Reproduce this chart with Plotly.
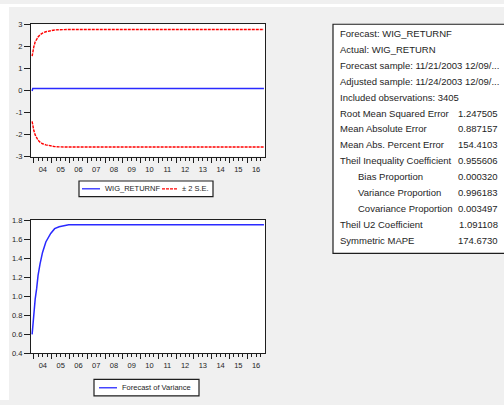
import plotly.graph_objects as go

# Forecast path (daily forecast, sampled where the curves bend)
dates = ["2003-11-24", "2003-12-08", "2003-12-29", "2004-01-26", "2004-02-25",
         "2004-03-25", "2004-05-05", "2004-06-25", "2004-09-01", "2004-12-10",
         "2005-03-01", "2005-06-01", "2005-12-15", "2016-12-09"]
forecast = [-0.03, 0.09, 0.09, 0.09, 0.09, 0.09, 0.09, 0.09, 0.09, 0.09,
            0.09, 0.09, 0.09, 0.09]
upper_2se = [1.55, 1.80, 1.98, 2.20, 2.32, 2.42, 2.52, 2.60, 2.66, 2.72,
             2.74, 2.75, 2.76, 2.76]
lower_2se = [-1.41, -1.62, -1.82, -2.02, -2.16, -2.26, -2.35, -2.42, -2.47,
             -2.52, -2.55, -2.56, -2.57, -2.57]
variance = [0.60, 0.70, 0.84, 0.97, 1.08, 1.22, 1.34, 1.46, 1.57, 1.66,
            1.71, 1.73, 1.75, 1.75]

y1_ticks = [-3, -2, -1, 0, 1, 2, 3]
y1_labels = ["-3", "-2", "-1", "0", "1", "2", "3"]
y2_ticks = [0.4, 0.6, 0.8, 1.0, 1.2, 1.4, 1.6, 1.8]
y2_labels = ["0.4", "0.6", "0.8", "1.0", "1.2", "1.4", "1.6", "1.8"]

# Forecast evaluation statistics
stat_labels = ["Forecast: WIG_RETURNF", "Actual: WIG_RETURN",
               "Forecast sample: 11/21/2003 12/09/...",
               "Adjusted sample: 11/24/2003 12/09/...",
               "Included observations: 3405",
               "Root Mean Squared Error", "Mean Absolute Error",
               "Mean Abs. Percent Error", "Theil Inequality Coefficient",
               "Bias Proportion", "Variance Proportion", "Covariance Proportion",
               "Theil U2 Coefficient", "Symmetric MAPE"]
stat_values = ["", "", "", "", "", "1.247505", "0.887157", "154.4103",
               "0.955606", "0.000320", "0.996183", "0.003497", "1.091108",
               "174.6730"]
stat_indent = [False] * 9 + [True, True, True] + [False, False]

W, H = 504, 405


def px(x):
    return x / W


def py(y):
    return 1 - y / H


BLUE = "#2a2aff"
RED = "#ff0000"
INK = "#1e1e1e"
FONT = "Liberation Sans, Arial, sans-serif"

fig = go.Figure()

fig.add_trace(go.Scatter(x=dates, y=forecast, mode="lines", name="WIG_RETURNF",
                         line=dict(color=BLUE, width=1.5), xaxis="x", yaxis="y",
                         showlegend=False))
fig.add_trace(go.Scatter(x=dates, y=upper_2se, mode="lines", name="± 2 S.E.",
                         line=dict(color=RED, width=1.4, dash="3px,1px"),
                         xaxis="x", yaxis="y", showlegend=False))
fig.add_trace(go.Scatter(x=dates, y=lower_2se, mode="lines", name="± 2 S.E.",
                         line=dict(color=RED, width=1.4, dash="3px,1px"),
                         xaxis="x", yaxis="y", showlegend=False))
fig.add_trace(go.Scatter(x=dates, y=variance, mode="lines",
                         name="Forecast of Variance",
                         line=dict(color=BLUE, width=1.5), xaxis="x2", yaxis="y2",
                         showlegend=False))

x_range = ["2003-11-01", "2016-12-31"]
tickfont = dict(family=FONT, size=7.5, color=INK)


def time_axis(anchor, dom):
    return dict(type="date", range=x_range, domain=dom, anchor=anchor,
                tick0="2004-01-01", dtick="M12", tickformat="%y",
                ticklabelmode="period", ticks="outside", ticklen=5,
                tickcolor=INK, tickwidth=1, tickfont=tickfont,
                minor=dict(dtick="M3", ticks="outside", ticklen=3,
                           tickcolor=INK, tickwidth=1),
                showgrid=False, zeroline=False, showline=True, mirror=True,
                linecolor=INK, linewidth=1.2, fixedrange=True)


xdom = [px(31), px(265)]
fig.update_layout(
    width=W, height=H, margin=dict(l=0, r=0, t=0, b=0),
    paper_bgcolor="#f0f0f0", plot_bgcolor="white", showlegend=False,
    xaxis=time_axis("y", xdom),
    xaxis2=time_axis("y2", xdom),
    yaxis=dict(domain=[py(156), py(20.7)], range=[-3, 3], tickvals=y1_ticks,
               ticktext=y1_labels,
               ticks="outside", ticklen=6, tickcolor=INK, tickfont=tickfont,
               showgrid=False, zeroline=False, showline=True, mirror=True,
               linecolor=INK, linewidth=1.2, anchor="x"),
    yaxis2=dict(domain=[py(357.3), py(221)], range=[0.4, 1.8], tickvals=y2_ticks,
                ticktext=y2_labels, ticks="outside", ticklen=6, tickcolor=INK,
                tickfont=tickfont, showgrid=False, zeroline=False, showline=True,
                mirror=True, linecolor=INK, linewidth=1.2, anchor="x2"),
)

shapes = []
annotations = []

# white margin strips of the graph window
shapes.append(dict(type="rect", xref="paper", yref="paper", x0=0, x1=px(9),
                   y0=0, y1=1, fillcolor="white", line=dict(width=0), layer="below"))
shapes.append(dict(type="rect", xref="paper", yref="paper", x0=0, x1=1,
                   y0=py(3), y1=1, fillcolor="white", line=dict(width=0), layer="below"))

legend_font = dict(family=FONT, size=7.5, color=INK)


def legend_box(x0, x1, y0, y1):
    shapes.append(dict(type="rect", xref="paper", yref="paper", x0=px(x0), x1=px(x1),
                       y0=py(y1), y1=py(y0), fillcolor="white",
                       line=dict(color=INK, width=1.2)))


def legend_item(x0, x1, yc, color, dash, text):
    shapes.append(dict(type="line", xref="paper", yref="paper", x0=px(x0), x1=px(x1),
                       y0=py(yc), y1=py(yc), line=dict(color=color, width=1.3, dash=dash)))
    annotations.append(dict(xref="paper", yref="paper", x=px(x1 + 3), y=py(yc),
                            text=text, showarrow=False, xanchor="left",
                            yanchor="middle", font=legend_font))


legend_box(79, 213, 181, 197)
legend_item(82, 100, 189, BLUE, "solid", fig.data[0].name)
legend_item(162, 177, 189, RED, "3px,1px", fig.data[1].name)

legend_box(94, 199, 384, 400.7)
legend_item(99, 117, 392.5, BLUE, "solid", fig.data[3].name)

# statistics table
shapes.append(dict(type="rect", xref="paper", yref="paper", x0=px(333), x1=px(520),
                   y0=py(255), y1=py(20.7), fillcolor="white",
                   line=dict(color=INK, width=1.2)))
table_font = dict(family=FONT, size=9.5, color=INK)
for i, (lab, val, ind) in enumerate(zip(stat_labels, stat_values, stat_indent)):
    yc = 30 + i * 16.3
    annotations.append(dict(xref="paper", yref="paper",
                            x=px(356 if ind else 338), y=py(yc), text=lab,
                            showarrow=False, xanchor="left", yanchor="middle",
                            font=table_font))
    if val:
        annotations.append(dict(xref="paper", yref="paper", x=px(500), y=py(yc),
                                text=val, showarrow=False, xanchor="right",
                                yanchor="middle", font=table_font))

fig.update_layout(shapes=shapes, annotations=annotations)
fig.write_html("out.html")
